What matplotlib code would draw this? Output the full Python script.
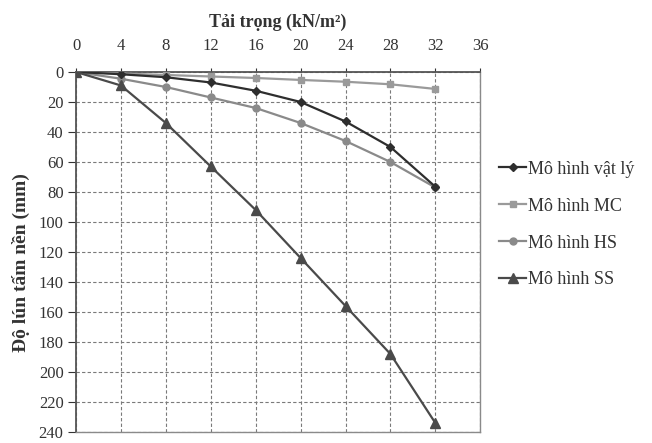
import numpy as np
import matplotlib
matplotlib.use("Agg")
import matplotlib.pyplot as plt

plt.rcParams['font.family'] = ['Liberation Serif', 'DejaVu Serif']

# tai trong (kN/m2)
load = [0, 4, 8, 12, 16, 20, 24, 28, 32]

# do lun (mm)
lun_vatly = [0, 1.5, 3.5, 7, 12.5, 20, 33, 50, 76.5]
lun_mc = [0, 1, 2, 3, 4, 5.3, 6.5, 8.2, 11.3]
lun_hs = [0, 4.5, 10, 17, 24, 34, 46, 60, 77]
lun_ss = [0, 9, 34, 63, 92, 124, 156, 188, 234]

labels = ['Mô hình vật lý', 'Mô hình MC', 'Mô hình HS', 'Mô hình SS']
xticks = [0, 4, 8, 12, 16, 20, 24, 28, 32, 36]
yticks = [0, 20, 40, 60, 80, 100, 120, 140, 160, 180, 200, 220, 240]

fig = plt.figure(figsize=(6.52, 4.43), dpi=100)
ax = fig.add_axes([0.1166, 0.0248, 0.620, 0.8127])

ax.plot(load, lun_vatly, color='#2e2e2e', lw=1.6, marker='D', ms=4, label=labels[0], zorder=5)
ax.plot(load, lun_mc, color='#9a9a9a', lw=1.6, marker='s', ms=5, label=labels[1], zorder=4)
ax.plot(load, lun_hs, color='#8a8a8a', lw=1.6, marker='o', ms=5, label=labels[2], zorder=4)
ax.plot(load, lun_ss, color='#4a4a4a', lw=1.6, marker='^', ms=7, label=labels[3], zorder=5)

ax.set_xlim(0, 36)
ax.set_ylim(240, 0)
ax.set_xticks(xticks)
ax.set_yticks(yticks)
ax.xaxis.tick_top()
ax.xaxis.set_label_position('top')

ax.grid(True, color='#7a7a7a', ls=(0, (3, 2)), lw=0.8)
ax.set_axisbelow(True)

for s in ['left', 'top']:
    ax.spines[s].set_color('#555555')
    ax.spines[s].set_linewidth(1.3)
for s in ['right', 'bottom']:
    ax.spines[s].set_color('#8a8a8a')
    ax.spines[s].set_linewidth(1.0)

ax.tick_params(axis='both', labelsize=12, colors='#333333', width=0.8)
ax.tick_params(axis='y', length=6, pad=3)
ax.tick_params(axis='x', length=3, pad=10)

ax.set_xlabel('Tải trọng (kN/m²)', fontsize=13, fontweight='bold', color='#333333', labelpad=8)
ax.set_ylabel('Độ lún tấm nền (mm)', fontsize=14, fontweight='bold', color='#333333')
ax.yaxis.set_label_coords(-0.115, 0.47)

fig.legend(loc='center left', bbox_to_anchor=(0.741, 0.493), frameon=False,
           fontsize=13, handlelength=1.5, handletextpad=0.1, labelspacing=1.1,
           labelcolor='#333333')

fig.savefig('out.png', dpi=100)
